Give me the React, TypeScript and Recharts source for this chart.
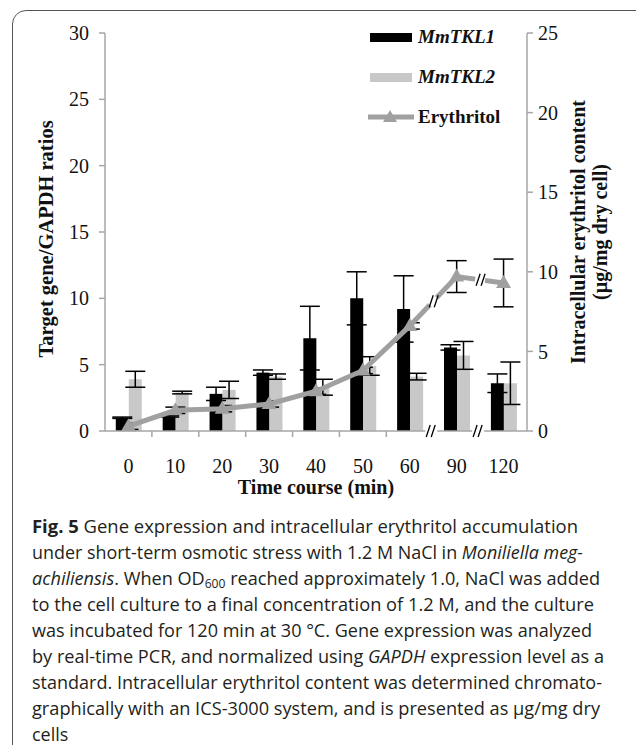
import React from 'react';
import { ComposedChart, Bar, Line, XAxis, YAxis, ErrorBar, Legend } from 'recharts';

// time points (min) and measured values
const times = ['0', '10', '20', '30', '40', '50', '60', '90', '120'];
const tkl1 = [1.0, 1.1, 2.8, 4.4, 7.0, 10.0, 9.2, 6.3, 3.6];
const tkl1Err = [0.05, 0.05, 0.5, 0.2, 2.4, 2.0, 2.5, 0.2, 0.7];
const tkl2 = [3.9, 2.9, 3.1, 4.1, 3.3, 4.9, 4.1, 5.7, 3.6];
const tkl2Err = [0.6, 0.1, 0.65, 0.2, 0.6, 0.7, 0.25, 1.05, 1.6];
const erythritol = [0.3, 1.3, 1.4, 1.7, 2.5, 3.8, 6.6, 9.7, 9.3];
const erythritolErr = [0.2, 0.2, 0.2, 0.2, 0.2, 0.2, 0.2, 1.0, 1.5];
const leftTicks = [0, 5, 10, 15, 20, 25, 30];
const rightTicks = [0, 5, 10, 15, 20, 25];
// categories that come right after a break in the time axis
const breakBefore = ['90', '120'];
const seriesOrder = ['tkl1', 'tkl2', 'ery'];

const data = times.map((t, i) => ({
  t,
  tkl1: tkl1[i],
  tkl1Err: tkl1Err[i],
  tkl2: tkl2[i],
  tkl2Err: tkl2Err[i],
  ery: erythritol[i],
  eryErr: erythritolErr[i],
}));

const SERIF = '"Liberation Serif", "Times New Roman", serif';
const SANS = '"Open Sans", "Noto Sans", sans-serif';
const AXIS = '#a6a6a6';
const LINE = '#a0a0a0';
const GREY_BAR = '#c8c8c8';

const W = 636;
const H = 501;
const LEFT_W = 105;
const RIGHT_W = 109;
const TOP = 33;
const BAND = (W - LEFT_W - RIGHT_W) / times.length;

const BreakMark = ({ x, y }: { x: number; y: number }) => (
  <g>
    <rect x={x - 6} y={y - 3} width={12} height={6} fill="#fff" />
    <line x1={x - 5} y1={y + 6} x2={x - 1} y2={y - 6} stroke="#000" strokeWidth={1.3} />
    <line x1={x} y1={y + 6} x2={x + 4} y2={y - 6} stroke="#000" strokeWidth={1.3} />
  </g>
);

const XTick = (props: any) => {
  const { x, y, payload, index } = props;
  const half = payload && payload.offset ? payload.offset : BAND / 2;
  const xb = x - half;
  let mark = null;
  if (breakBefore.includes(String(payload.value))) {
    mark = <BreakMark x={xb - 2} y={y} />;
  } else if (index > 0) {
    mark = <line x1={xb} y1={y} x2={xb} y2={y + 6} stroke={AXIS} strokeWidth={1.5} />;
  }
  return (
    <g>
      {mark}
      <text x={x} y={y + 42} textAnchor="middle" fontFamily={SERIF} fontSize={20} fill="#111">
        {payload.value}
      </text>
    </g>
  );
};

const cache: { x: number; y: number }[] = [];

const renderDot = (props: any) => {
  const { cx, cy, index, payload } = props;
  cache[index] = { x: cx, y: cy };
  const pts = props.points && props.points.length ? props.points : cache;
  let brk = null;
  if (index > 0 && breakBefore.includes(String(payload.t)) && pts[index - 1]) {
    const p0 = pts[index - 1];
    const mx = (p0.x + cx) / 2;
    const my = (p0.y + cy) / 2;
    const dx = cx - p0.x;
    const dy = cy - p0.y;
    const len = Math.sqrt(dx * dx + dy * dy) || 1;
    const ux = dx / len;
    const uy = dy / len;
    brk = (
      <g>
        <line x1={mx - ux * 5} y1={my - uy * 5} x2={mx + ux * 5} y2={my + uy * 5} stroke="#fff" strokeWidth={9} />
        <line x1={mx - 4} y1={my + 6} x2={mx} y2={my - 6} stroke="#000" strokeWidth={1.3} />
        <line x1={mx + 1} y1={my + 6} x2={mx + 5} y2={my - 6} stroke="#000" strokeWidth={1.3} />
      </g>
    );
  }
  return (
    <g key={`dot-${index}`}>
      {brk}
      <polygon
        points={`${cx},${cy - 8} ${cx - 7.5},${cy + 5} ${cx + 7.5},${cy + 5}`}
        fill={LINE}
      />
    </g>
  );
};

const renderLegend = (props: any) => {
  const items = [...(props.payload || [])].sort(
    (a: any, b: any) => seriesOrder.indexOf(a.dataKey) - seriesOrder.indexOf(b.dataKey)
  );
  return (
    <div style={{ fontFamily: SERIF, fontWeight: 'bold', fontSize: 19, color: '#111' }}>
      {items.map((entry: any) => (
        <div key={entry.dataKey} style={{ display: 'flex', alignItems: 'center', height: 40 }}>
          <svg width={46} height={16}>
            {entry.dataKey === 'ery' ? (
              <g>
                <line x1={0} y1={8} x2={46} y2={8} stroke={LINE} strokeWidth={5} />
                <polygon points="22,1 15,13 29,13" fill={LINE} />
              </g>
            ) : (
              <rect x={2} y={4} width={42} height={9} fill={entry.dataKey === 'tkl1' ? '#000' : GREY_BAR} />
            )}
          </svg>
          <span style={{ marginLeft: 4, fontStyle: entry.dataKey === 'ery' ? 'normal' : 'italic' }}>
            {entry.value}
          </span>
        </div>
      ))}
    </div>
  );
};

const leftTitle = (props: any) => {
  const vb = props.viewBox || { x: 0, y: TOP, width: LEFT_W, height: 398 };
  const cx = vb.x + 46;
  const cy = vb.y + vb.height / 2 + 7;
  return (
    <text
      x={cx}
      y={cy}
      transform={`rotate(-90 ${cx} ${cy})`}
      textAnchor="middle"
      dominantBaseline="central"
      fontFamily={SERIF}
      fontWeight="bold"
      fontSize={20.5}
      fill="#111"
    >
      Target gene/GAPDH ratios
    </text>
  );
};

const rightTitle = (props: any) => {
  const vb = props.viewBox || { x: W - RIGHT_W, y: TOP, width: RIGHT_W, height: 398 };
  const cy = vb.y + vb.height / 2;
  const x1 = vb.x + 51;
  const x2 = vb.x + 73;
  const common = {
    textAnchor: 'middle' as const,
    dominantBaseline: 'central' as const,
    fontFamily: SERIF,
    fontWeight: 'bold',
    fontSize: 20,
    fill: '#111',
  };
  return (
    <g>
      <text x={x1} y={cy} transform={`rotate(-90 ${x1} ${cy})`} {...common}>
        Intracellular erythritol content
      </text>
      <text x={x2} y={cy} transform={`rotate(-90 ${x2} ${cy})`} {...common}>
        (µg/mg dry cell)
      </text>
    </g>
  );
};

const xTitle = (props: any) => {
  const vb = props.viewBox || { x: LEFT_W, y: 431, width: W - LEFT_W - RIGHT_W, height: 70 };
  return (
    <text
      x={vb.x + vb.width / 2}
      y={vb.y + 63}
      textAnchor="middle"
      fontFamily={SERIF}
      fontWeight="bold"
      fontSize={20}
      fill="#111"
    >
      Time course (min)
    </text>
  );
};

const captionStyle = { fontFamily: SANS, fontSize: 18, fill: '#231f20' };

const CAP_X = 32;
const CAP_Y0 = 43;
const CAP_DY = 26;

const Caption = () => (
  <svg width={W} height={255} style={{ position: 'absolute', left: 0, top: 490 }}>
    <g {...captionStyle}>
      <text x={CAP_X} y={CAP_Y0} textLength={546} lengthAdjust="spacingAndGlyphs">
        <tspan fontWeight="bold">Fig. 5</tspan>
        <tspan>{'  '}Gene expression and intracellular erythritol accumulation</tspan>
      </text>
      <text x={CAP_X} y={CAP_Y0 + CAP_DY} textLength={551} lengthAdjust="spacingAndGlyphs">
        <tspan>under short-term osmotic stress with 1.2 M NaCl in </tspan>
        <tspan fontStyle="italic">Moniliella meg-</tspan>
      </text>
      <text x={CAP_X} y={CAP_Y0 + CAP_DY * 2} textLength={568} lengthAdjust="spacingAndGlyphs">
        <tspan fontStyle="italic">achiliensis</tspan>
        <tspan>. When OD</tspan>
        <tspan fontSize={12} dy={3}>600</tspan>
        <tspan dy={-3}> reached approximately 1.0, NaCl was added</tspan>
      </text>
      <text x={CAP_X} y={CAP_Y0 + CAP_DY * 3} textLength={562} lengthAdjust="spacingAndGlyphs">
        to the cell culture to a final concentration of 1.2 M, and the culture
      </text>
      <text x={CAP_X} y={CAP_Y0 + CAP_DY * 4} textLength={560} lengthAdjust="spacingAndGlyphs">
        was incubated for 120 min at 30 °C. Gene expression was analyzed
      </text>
      <text x={CAP_X} y={CAP_Y0 + CAP_DY * 5} textLength={572} lengthAdjust="spacingAndGlyphs">
        <tspan>by real-time PCR, and normalized using </tspan>
        <tspan fontStyle="italic">GAPDH</tspan>
        <tspan> expression level as a</tspan>
      </text>
      <text x={CAP_X} y={CAP_Y0 + CAP_DY * 6} textLength={570} lengthAdjust="spacingAndGlyphs">
        standard. Intracellular erythritol content was determined chromato-
      </text>
      <text x={CAP_X} y={CAP_Y0 + CAP_DY * 7} textLength={568} lengthAdjust="spacingAndGlyphs">
        graphically with an ICS-3000 system, and is presented as µg/mg dry
      </text>
      <text x={CAP_X} y={CAP_Y0 + CAP_DY * 8}>
        cells
      </text>
    </g>
  </svg>
);

export default function App() {
  return (
    <div
      style={{
        position: 'fixed',
        left: 0,
        top: 0,
        width: W,
        height: 745,
        overflow: 'hidden',
        background: '#fff',
      }}
    >
      <div
        style={{
          position: 'absolute',
          left: 12,
          top: 10,
          width: 700,
          height: 800,
          border: '1.5px solid #555',
          borderTopLeftRadius: 14,
          boxSizing: 'border-box',
        }}
      />
      <div style={{ position: 'absolute', left: 0, top: 0 }}>
        <ComposedChart
          width={W}
          height={H}
          data={data}
          margin={{ top: TOP, right: 0, bottom: 0, left: 0 }}
          barCategoryGap="23%"
          barGap={0}
        >
          <XAxis
            dataKey="t"
            xAxisId={0}
            height={H - 431}
            interval={0}
            axisLine={{ stroke: AXIS, strokeWidth: 1.5 }}
            tickLine={false}
            tickSize={0}
            tickMargin={0}
            tick={<XTick />}
            label={{ content: xTitle }}
          />
          <YAxis
            yAxisId="l"
            orientation="left"
            width={LEFT_W}
            domain={[0, 30]}
            ticks={leftTicks}
            interval={0}
            axisLine={{ stroke: AXIS, strokeWidth: 1.5 }}
            tickLine={{ stroke: AXIS, strokeWidth: 1.5 }}
            tickSize={6}
            tickMargin={10}
            tick={{ fontFamily: SERIF, fontSize: 20, fill: '#111' }}
            label={{ content: leftTitle }}
          />
          <YAxis
            yAxisId="r"
            orientation="right"
            width={RIGHT_W}
            domain={[0, 25]}
            ticks={rightTicks}
            interval={0}
            axisLine={{ stroke: AXIS, strokeWidth: 1.5 }}
            tickLine={{ stroke: AXIS, strokeWidth: 1.5 }}
            tickSize={6}
            tickMargin={5}
            tick={{ fontFamily: SERIF, fontSize: 20, fill: '#111' }}
            label={{ content: rightTitle }}
          />
          <Legend
            layout="vertical"
            align="center"
            verticalAlign="middle"
            content={renderLegend}
            wrapperStyle={{ top: 17, left: 368, width: 170, height: 120 }}
          />
          <Bar yAxisId="l" dataKey="tkl1" name="MmTKL1" fill="#000" isAnimationActive={false}>
            <ErrorBar dataKey="tkl1Err" width={10} stroke="#000" strokeWidth={1.5} direction="y" />
          </Bar>
          <Bar yAxisId="l" dataKey="tkl2" name="MmTKL2" fill={GREY_BAR} isAnimationActive={false}>
            <ErrorBar dataKey="tkl2Err" width={10} stroke="#000" strokeWidth={1.5} direction="y" />
          </Bar>
          <Line
            yAxisId="r"
            dataKey="ery"
            name="Erythritol"
            stroke={LINE}
            strokeWidth={5}
            dot={renderDot}
            activeDot={false}
            legendType="line"
            isAnimationActive={false}
          >
            <ErrorBar dataKey="eryErr" width={10} stroke="#000" strokeWidth={1.5} direction="y" />
          </Line>
        </ComposedChart>
      </div>
      <Caption />
    </div>
  );
}
